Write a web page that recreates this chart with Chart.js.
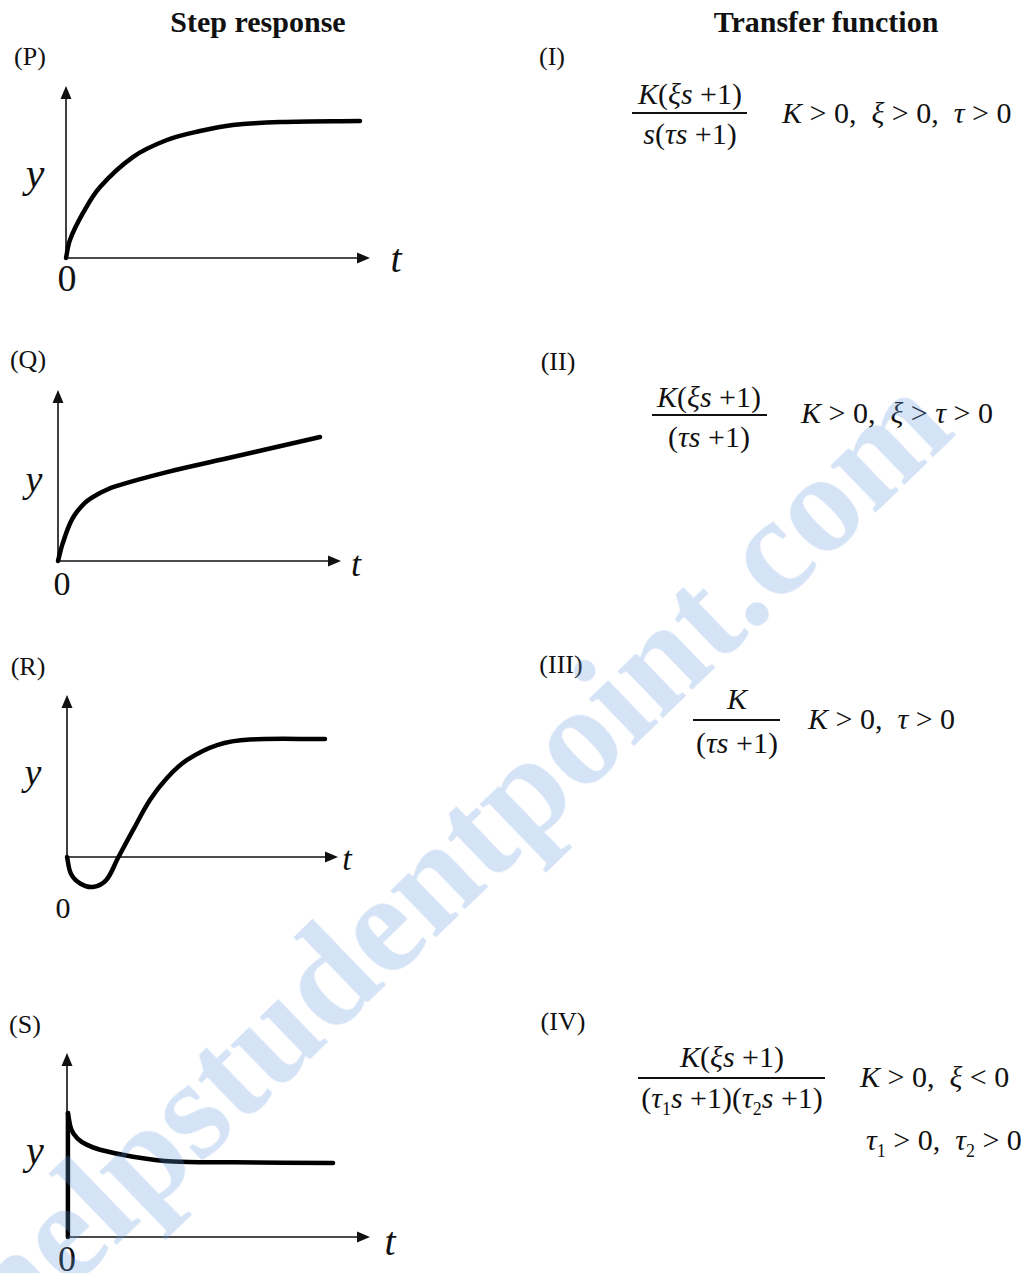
<!DOCTYPE html>
<html>
<head>
<meta charset="utf-8">
<script src="https://cdn.jsdelivr.net/npm/chart.js@4.4.0/dist/chart.umd.min.js"></script>
<style>
  html, body { margin: 0; padding: 0; background: #fff; }
  #page { position: relative; width: 1034px; height: 1273px; overflow: hidden; font-family: "Liberation Serif", "Times New Roman", serif; color: #111; }
  .lbl { position: absolute; transform: translate(-50%, -50%); white-space: nowrap; line-height: 1; }
  .left { transform: translate(0, -50%); }
  .panel { position: absolute; }
  .bar { position: absolute; height: 1.5px; background: #111; }
  .tf { font-size: 30px; }
  sub { font-size: 18px; }
  i { font-style: italic; }
  #wm { position: absolute; left: 452px; top: 855px; transform: translate(-50%, -50%) rotate(-44deg);
        font: bold 142px "Liberation Serif", serif; color: rgba(100,150,220,0.27); white-space: nowrap; z-index: 10; pointer-events: none; }
</style>
</head>
<body>
<div id="page">
  <div class="lbl" style="left:258px;top:22px;font-size:30px;font-weight:bold">Step response</div>
  <div class="lbl" style="left:826px;top:22px;font-size:30px;font-weight:bold">Transfer function</div>

  <div class="lbl" style="left:30px;top:57px;font-size:26px">(P)</div>
  <div class="lbl" style="left:28px;top:360px;font-size:26px">(Q)</div>
  <div class="lbl" style="left:28px;top:667px;font-size:26px">(R)</div>
  <div class="lbl" style="left:25px;top:1025px;font-size:26px">(S)</div>

  <div class="lbl" style="left:552px;top:57px;font-size:26px">(I)</div>
  <div class="lbl" style="left:558px;top:362px;font-size:26px">(II)</div>
  <div class="lbl" style="left:561px;top:665px;font-size:26px">(III)</div>
  <div class="lbl" style="left:563px;top:1022px;font-size:26px">(IV)</div>

  <!-- axis letters -->
  <div class="lbl" style="left:35px;top:173px;font-size:42px"><i>y</i></div>
  <div class="lbl" style="left:67px;top:278px;font-size:38px">0</div>
  <div class="lbl" style="left:396px;top:259px;font-size:40px"><i>t</i></div>

  <div class="lbl" style="left:34px;top:479px;font-size:38px"><i>y</i></div>
  <div class="lbl" style="left:62px;top:584px;font-size:34px">0</div>
  <div class="lbl" style="left:356px;top:564px;font-size:36px"><i>t</i></div>

  <div class="lbl" style="left:33px;top:772px;font-size:38px"><i>y</i></div>
  <div class="lbl" style="left:63px;top:908px;font-size:30px">0</div>
  <div class="lbl" style="left:347px;top:859px;font-size:34px"><i>t</i></div>

  <div class="lbl" style="left:35px;top:1151px;font-size:40px"><i>y</i></div>
  <div class="lbl" style="left:67px;top:1259px;font-size:36px">0</div>
  <div class="lbl" style="left:390px;top:1242px;font-size:40px"><i>t</i></div>

  <!-- transfer functions -->
  <div class="lbl tf" style="left:690px;top:94px"><i>K</i>(<i>ξs</i> +1)</div>
  <div class="bar" style="left:632px;top:112px;width:115px"></div>
  <div class="lbl tf" style="left:690px;top:134px"><i>s</i>(<i>τs</i> +1)</div>
  <div class="lbl left tf" style="left:782px;top:113px"><i>K</i> &gt; 0,&nbsp; <i>ξ</i> &gt; 0,&nbsp; <i>τ</i> &gt; 0</div>

  <div class="lbl tf" style="left:709px;top:397px"><i>K</i>(<i>ξs</i> +1)</div>
  <div class="bar" style="left:652px;top:414px;width:115px"></div>
  <div class="lbl tf" style="left:709px;top:437px">(<i>τs</i> +1)</div>
  <div class="lbl left tf" style="left:801px;top:413px"><i>K</i> &gt; 0,&nbsp; <i>ξ</i> &gt; <i>τ</i> &gt; 0</div>

  <div class="lbl tf" style="left:737px;top:699px"><i>K</i></div>
  <div class="bar" style="left:693px;top:719px;width:87px"></div>
  <div class="lbl tf" style="left:737px;top:743px">(<i>τs</i> +1)</div>
  <div class="lbl left tf" style="left:808px;top:719px"><i>K</i> &gt; 0,&nbsp; <i>τ</i> &gt; 0</div>

  <div class="lbl tf" style="left:732px;top:1057px"><i>K</i>(<i>ξs</i> +1)</div>
  <div class="bar" style="left:638px;top:1077px;width:187px"></div>
  <div class="lbl tf" style="left:732px;top:1100px">(<i>τ</i><sub>1</sub><i>s</i> +1)(<i>τ</i><sub>2</sub><i>s</i> +1)</div>
  <div class="lbl left tf" style="left:860px;top:1077px"><i>K</i> &gt; 0,&nbsp; <i>ξ</i> &lt; 0</div>
  <div class="lbl left tf" style="left:866px;top:1142px"><i>τ</i><sub>1</sub> &gt; 0,&nbsp; <i>τ</i><sub>2</sub> &gt; 0</div>

  <div id="wm">helpstudentpoint.com</div>
</div>

<script>
// step response sketches, axis box is 0..10 on both scales (10 = arrow tip)
const pT = [0, 0.13, 0.56, 1.12, 2.2, 3.32, 4.41, 5.49, 7.04, 9.67];
const pY = [0, 1.05, 2.62, 4.13, 5.87, 6.86, 7.38, 7.73, 7.91, 7.97];

const qT = [0, 0.16, 0.5, 0.95, 1.4, 2.0, 3.85, 6.18, 9.26];
const qY = [0, 1.0, 2.45, 3.4, 3.9, 4.35, 5.2, 6.08, 7.25];

const rT = [0, 0.15, 0.5, 0.96, 1.45, 1.88, 2.44, 3.06, 3.69, 4.43, 5.54, 6.75, 9.52];
const rY = [0, -1.05, -1.65, -1.85, -1.42, -0.06, 1.67, 3.52, 4.88, 5.99, 6.91, 7.25, 7.28];

const sStepT = [0.03, 0.03];
const sStepY = [0, 6.74];
const sT = [0.03, 0.14, 0.35, 0.65, 1.09, 2.18, 3.5, 5.48, 8.78];
const sY = [6.74, 5.85, 5.35, 5.02, 4.74, 4.36, 4.1, 4.06, 4.02];

// pixel box for each panel: origin x, x arrow tip, y arrow tip, origin y
const panels = [
  { id: 'P', x0: 66, x1: 370, y1: 86, y0: 258, series: [[pT, pY]] },
  { id: 'Q', x0: 58, x1: 341, y1: 390, y0: 561, series: [[qT, qY]] },
  { id: 'R', x0: 67, x1: 338, y1: 695, y0: 857, series: [[rT, rY]] },
  { id: 'S', x0: 67, x1: 370, y1: 1053, y0: 1237, series: [[sStepT, sStepY, 0], [sT, sY]] }
];

const arrowAxes = {
  id: 'arrowAxes',
  beforeDatasetsDraw(chart) {
    const ctx = chart.ctx;
    const xs = chart.scales.x, ys = chart.scales.y;
    const ox = xs.getPixelForValue(0), oy = ys.getPixelForValue(0);
    const tx = xs.getPixelForValue(10), ty = ys.getPixelForValue(10);
    ctx.save();
    ctx.strokeStyle = '#111';
    ctx.fillStyle = '#111';
    ctx.lineWidth = 1.6;
    ctx.beginPath();
    ctx.moveTo(ox, oy);
    ctx.lineTo(tx - 8, oy);
    ctx.moveTo(ox, oy);
    ctx.lineTo(ox, ty + 8);
    ctx.stroke();
    ctx.beginPath();
    ctx.moveTo(tx, oy);
    ctx.lineTo(tx - 13, oy - 5.5);
    ctx.lineTo(tx - 13, oy + 5.5);
    ctx.closePath();
    ctx.fill();
    ctx.beginPath();
    ctx.moveTo(ox, ty);
    ctx.lineTo(ox - 5.5, ty + 13);
    ctx.lineTo(ox + 5.5, ty + 13);
    ctx.closePath();
    ctx.fill();
    ctx.restore();
  }
};

const pad = 40;
const page = document.getElementById('page');

panels.forEach(p => {
  const w = p.x1 - p.x0, h = p.y0 - p.y1;
  const box = document.createElement('div');
  box.className = 'panel';
  box.style.left = (p.x0 - pad) + 'px';
  box.style.top = (p.y1 - pad) + 'px';
  const cv = document.createElement('canvas');
  cv.width = w + 2 * pad;
  cv.height = h + 2 * pad;
  box.appendChild(cv);
  page.insertBefore(box, document.getElementById('wm'));

  new Chart(cv.getContext('2d'), {
    type: 'line',
    data: {
      datasets: p.series.map(s => ({
        data: s[0].map((t, i) => ({ x: t, y: s[1][i] })),
        borderColor: '#000',
        borderWidth: 4.5,
        pointRadius: 0,
        fill: false,
        tension: s[2] === 0 ? 0 : 0.35,
        borderCapStyle: 'round',
        borderJoinStyle: 'round',
        clip: false
      }))
    },
    options: {
      responsive: false,
      animation: false,
      events: [],
      layout: { padding: pad },
      scales: {
        x: { type: 'linear', min: 0, max: 10, display: false },
        y: { type: 'linear', min: 0, max: 10, display: false }
      },
      plugins: { legend: { display: false }, tooltip: { enabled: false } }
    },
    plugins: [arrowAxes]
  });
});
</script>
</body>
</html>
